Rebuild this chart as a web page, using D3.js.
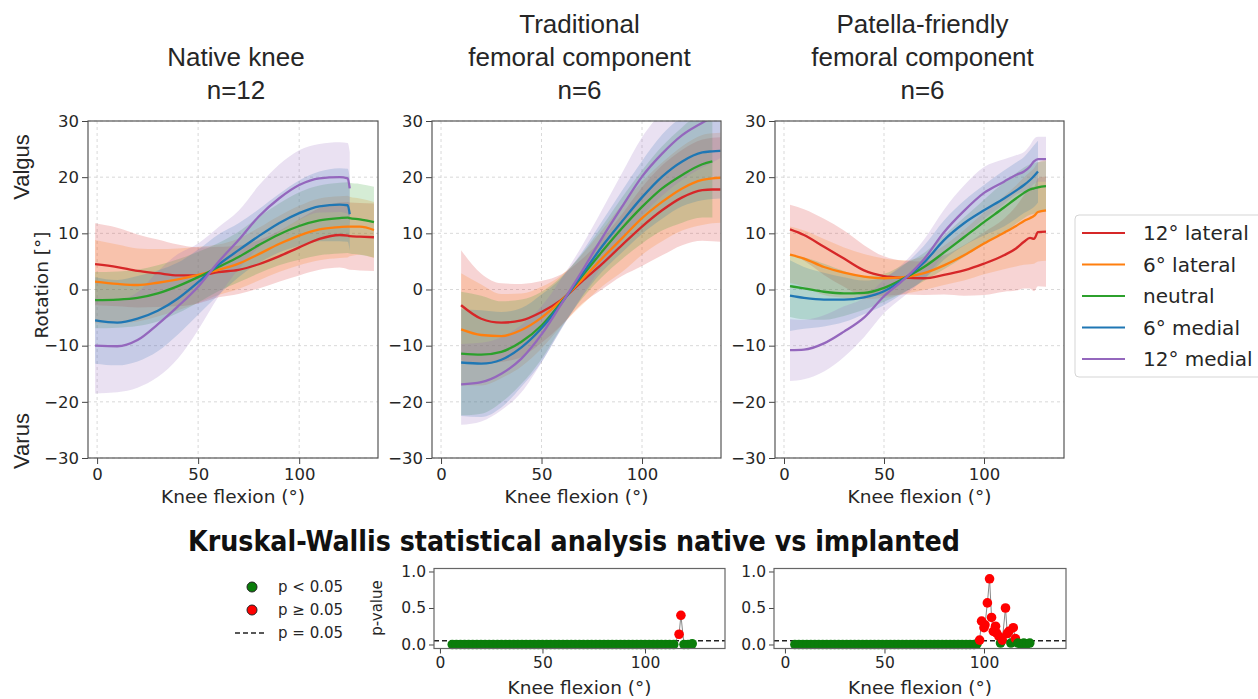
<!DOCTYPE html>
<html>
<head>
<meta charset="utf-8">
<script src="https://d3js.org/d3.v7.min.js"></script>
<style>
  body { margin: 0; background: #fff; }
  svg text { font-family: "DejaVu Sans", sans-serif; fill: #262626; }
  .title { font-family: "Liberation Sans", Arial, sans-serif; font-size: 26px; }
  .side { font-family: "Liberation Sans", Arial, sans-serif; font-size: 22px; }
  .small { font-size: 15px; }
  .axlabel { font-size: 18.5px; }
</style>
</head>
<body>
<svg id="chart" width="1258" height="699"></svg>
<script>
// ---- data ----
const seriesNames = ["12° lateral", "6° lateral", "neutral", "6° medial", "12° medial"];
const seriesColors = ["#d62728", "#ff7f0e", "#2ca02c", "#1f77b4", "#9467bd"];
const rotationTicks = [-30, -20, -10, 0, 10, 20, 30];
const flexionTicks = [0, 50, 100];
const pTicks = [0, 0.5, 1];

// Native knee, n=12
const nativeFlex = [-1, 10, 20, 30, 40, 50, 60, 70, 80, 90, 100, 110, 120, 124, 125, 130, 137];
const nativeLat12 = [4.5, 4.0, 3.3, 2.9, 2.5, 2.5, 3.1, 3.5, 4.5, 5.9, 7.5, 9.0, 9.7, 9.6, 9.5, 9.4, 9.3];
const nativeLat12Sd = [7.3, 7, 6.5, 6, 5.5, 5, 4.5, 4.3, 4.3, 4.5, 5, 5.5, 5.8, 6, 6, 6, 6];
const nativeLat6 = [1.4, 1.0, 0.8, 1.2, 1.8, 2.6, 3.5, 4.6, 6.3, 8.1, 9.6, 10.7, 11.1, 11.2, 11.2, 11.2, 10.6];
const nativeLat6Sd = [7.4, 7, 6.5, 6, 5.5, 5, 4.5, 4.5, 4.7, 5, 5.3, 5.5, 5.5, 5.5, 5.3, 5, 5];
const nativeNeutral = [-1.9, -1.8, -1.5, -0.7, 0.6, 2.2, 4.0, 5.8, 7.9, 9.8, 11.3, 12.3, 12.7, 12.8, 12.7, 12.5, 12];
const nativeNeutralSd = [5, 5, 5, 5, 4.8, 4.5, 4.3, 4.5, 5, 5.5, 6, 6.2, 6.3, 6.3, 6.3, 6.3, 6.3];
const nativeMed6 = [-5.5, -5.9, -5.2, -3.8, -1.6, 1.3, 4.4, 7.0, 9.5, 11.8, 13.6, 14.8, 15.1, 15, 13.4, null, null];
const nativeMed6Sd = [7.7, 7.6, 7.6, 7.2, 6.4, 5.8, 5.4, 4.8, 4.8, 5.2, 5.8, 6.2, 6.5, 6.5, 6.5, null, null];
const nativeMed12 = [-10, -10.1, -9.0, -6.2, -3.0, 0.5, 4.9, 8.8, 13, 16.2, 18.6, 19.8, 20, 19.8, 18, null, null];
const nativeMed12Sd = [8.5, 8.2, 8.5, 9.4, 9.3, 7.7, 6.2, 5.2, 5.5, 6, 6.2, 6.1, 6.2, 6.3, 6.5, null, null];

// Traditional femoral component, n=6
const tradFlex = [10, 20, 30, 40, 50, 60, 70, 80, 90, 100, 110, 120, 130, 135, 139];
const tradLat12 = [-2.8, -5.2, -5.9, -5.5, -4.0, -1.8, 1.4, 4.5, 7.9, 11.2, 14.1, 16.4, 17.7, 17.8, 17.8];
const tradLat12Sd = [9.8, 8, 7, 6.5, 5.5, 4.5, 4, 4.5, 5.5, 7, 8, 8.5, 9, 9.2, 9.3];
const tradLat6 = [-7.1, -8.1, -8.3, -7.2, -5, -1.9, 1.7, 5.5, 9.1, 12.7, 15.6, 18, 19.5, 19.8, 19.9];
const tradLat6Sd = [10, 9, 7.5, 6.5, 5.5, 4.5, 4.5, 5, 6, 6.5, 7, 7.5, 8, 8, 8];
const tradNeutral = [-11.4, -11.6, -11.1, -9.3, -6.4, -2.2, 2.3, 6.7, 10.9, 14.7, 18, 20.4, 22.3, 22.8, null];
const tradNeutralSd = [11, 10.5, 9, 7.5, 6, 4.5, 4, 4.5, 5.5, 6.5, 7.5, 8.5, 9.5, 10, null];
const tradMed6 = [-13, -13.2, -12.5, -10.3, -6.9, -2.4, 2.6, 7.6, 12.1, 16.4, 20.1, 22.8, 24.4, 24.6, 24.7];
const tradMed6Sd = [9.5, 9.5, 8.5, 7, 6, 4.5, 4, 4.5, 5.5, 6.5, 7.5, 8, 8.5, 8.5, 8.5];
const tradMed12 = [-16.9, -16.5, -15, -12.3, -8, -2.5, 3.2, 9.1, 14.7, 20.1, 24.2, 27.5, 29.7, 30.6, 31.4];
const tradMed12Sd = [7.2, 7, 6.5, 6, 5, 4.5, 4.5, 5, 6, 7, 7.5, 8, 8, 8, 8];

// Patella-friendly femoral component, n=6
const patFlex = [3, 10, 20, 30, 40, 50, 60, 70, 80, 90, 100, 110, 116, 120, 123, 125, 127, 131];
const patLat12 = [10.7, 9.7, 7.6, 5.5, 3.4, 2.4, 2.1, 2.0, 2.6, 3.4, 4.6, 6.1, 7.3, 8.5, 9.2, 9.0, 10.2, 10.3];
const patLat12Sd = [4.4, 4.6, 5, 5, 4.5, 3.5, 3, 3, 3.5, 4.5, 5.6, 6.5, 7.5, 8.3, 9, 9.3, 9.6, 9.8];
const patLat6 = [6.2, 5.5, 4.0, 3.0, 2.3, 2.0, 2.2, 2.9, 4.3, 6.1, 8.2, 10.1, 11.3, 12.2, 12.7, 13.1, 13.8, 14.1];
const patLat6Sd = [5, 5, 5, 4.5, 4, 3.5, 3, 3, 3.5, 4.5, 5.5, 6.5, 7.2, 7.8, 8.2, 8.5, 8.8, 9];
const patNeutral = [0.6, 0.2, -0.4, -0.7, -0.6, 0.3, 2.0, 4.0, 6.6, 9.3, 12, 14.6, 16.2, 17.2, 17.8, 18.0, 18.2, 18.4];
const patNeutralSd = [5.5, 5.5, 5, 4, 3, 2.5, 2.5, 2.5, 3, 3.5, 4, 4.5, 4.5, 4.5, 4.5, 4.5, 4.5, 4.5];
const patMed6 = [-1.1, -1.5, -1.8, -1.8, -1.4, -0.3, 1.9, 4.8, 8.8, 11.8, 14.1, 16.2, 17.6, 18.6, 19.5, 20.2, 21.0, null];
const patMed6Sd = [6.3, 5.5, 4.8, 4, 3, 2.5, 2.5, 3, 3.5, 4, 4.5, 5, 5, 5, 5.3, 5.5, 5.5, null];
const patMed12 = [-10.8, -10.7, -9.6, -7.5, -5.0, -1.2, 1.8, 5.4, 10.2, 14.0, 17.2, 19.2, 20.4, 21.0, 21.9, 22.8, 23.2, 23.2];
const patMed12Sd = [5.5, 5.3, 5, 4.5, 3.5, 3, 3, 3.5, 4, 4.5, 4.6, 4, 3.5, 3.5, 3.8, 4, 4, 4];

// Kruskal-Wallis p-values, native vs traditional
const kwTradFlex = [6, 8, 10, 12, 14, 16, 18, 20, 22, 24, 26, 28, 30, 32, 34, 36, 38, 40, 42, 44, 46, 48, 50,
  52, 54, 56, 58, 60, 62, 64, 66, 68, 70, 72, 74, 76, 78, 80, 82, 84, 86, 88, 90, 92, 94, 96, 98, 100,
  102, 104, 106, 108, 110, 112, 114, 116.6, 117.5, 119, 121, 123];
const kwTradP = [0, 0, 0, 0, 0, 0, 0, 0, 0, 0, 0, 0, 0, 0, 0, 0, 0, 0, 0, 0, 0, 0, 0,
  0, 0, 0, 0, 0, 0, 0, 0, 0, 0, 0, 0, 0, 0, 0, 0, 0, 0, 0, 0, 0, 0, 0, 0, 0,
  0, 0, 0, 0, 0, 0, 0, 0.14, 0.40, 0, 0, 0.01];

// Kruskal-Wallis p-values, native vs patella-friendly
const kwPatFlex = [5, 7, 9, 11, 13, 15, 17, 19, 21, 23, 25, 27, 29, 31, 33, 35, 37, 39, 41, 43, 45, 47, 49,
  51, 53, 55, 57, 59, 61, 63, 65, 67, 69, 71, 73, 75, 77, 79, 81, 83, 85, 87, 89, 91, 93, 95, 96.5,
  97.8, 98.8, 100, 100.5, 101.7, 102.8, 103.8, 104.7, 105.8, 106.3, 107.5, 108.3, 109.2, 110.8,
  111.7, 112.5, 113.5, 114.7, 115.8, 117, 118.5, 120, 121.5, 123];
const kwPatP = [0, 0, 0, 0, 0, 0, 0, 0, 0, 0, 0, 0, 0, 0, 0, 0, 0, 0, 0, 0, 0, 0, 0,
  0, 0, 0, 0, 0, 0, 0, 0, 0, 0, 0, 0, 0, 0, 0, 0, 0, 0, 0, 0, 0, 0, 0, 0.01,
  0.06, 0.32, 0.23, 0.27, 0.57, 0.90, 0.37, 0.18, 0.25, 0.16, 0.11, 0.02, 0.06, 0.50,
  0.15, 0.18, 0.02, 0.23, 0.08, 0.02, 0.01, 0.02, 0.01, 0.02];
const pThreshold = 0.05;

// ---- layout ----
const svg = d3.select("#chart");
const plotTop = 121, plotBottom = 458;

const panels = [
  { title: ["Native knee", "n=12"], flex: nativeFlex, left: 88, right: 378, xMin: -4.5, xMax: 139,
    means: [nativeLat12, nativeLat6, nativeNeutral, nativeMed6, nativeMed12],
    sds: [nativeLat12Sd, nativeLat6Sd, nativeNeutralSd, nativeMed6Sd, nativeMed12Sd] },
  { title: ["Traditional", "femoral component", "n=6"], flex: tradFlex, left: 432, right: 721, xMin: -4.5, xMax: 139.3,
    means: [tradLat12, tradLat6, tradNeutral, tradMed6, tradMed12],
    sds: [tradLat12Sd, tradLat6Sd, tradNeutralSd, tradMed6Sd, tradMed12Sd] },
  { title: ["Patella-friendly", "femoral component", "n=6"], flex: patFlex, left: 775, right: 1064, xMin: -4.5, xMax: 140,
    means: [patLat12, patLat6, patNeutral, patMed6, patMed12],
    sds: [patLat12Sd, patLat6Sd, patNeutralSd, patMed6Sd, patMed12Sd] }
];

const y = d3.scaleLinear().domain([-30, 30]).range([plotBottom, plotTop]);

panels.forEach((p, pi) => {
  const x = d3.scaleLinear().domain([p.xMin, p.xMax]).range([p.left, p.right]);
  const cx = (p.left + p.right) / 2;

  // titles (last line at y=99)
  const lines = p.title;
  lines.forEach((t, i) => {
    svg.append("text").attr("class", "title")
      .attr("x", cx + 3).attr("y", 99 - (lines.length - 1 - i) * 33)
      .attr("text-anchor", "middle").text(t);
  });

  const clipId = "clip" + pi;
  svg.append("clipPath").attr("id", clipId).append("rect")
    .attr("x", p.left).attr("y", plotTop).attr("width", p.right - p.left).attr("height", plotBottom - plotTop);

  // grid
  const grid = svg.append("g");
  grid.selectAll(".gx").data(flexionTicks).join("line").attr("class", "gx")
    .attr("x1", d => x(d)).attr("x2", d => x(d)).attr("y1", plotTop).attr("y2", plotBottom)
    .attr("stroke", "#cfcfcf").attr("stroke-width", 0.8).attr("stroke-dasharray", "3,3");
  grid.selectAll(".gy").data(rotationTicks).join("line").attr("class", "gy")
    .attr("x1", p.left).attr("x2", p.right).attr("y1", d => y(d)).attr("y2", d => y(d))
    .attr("stroke", "#cfcfcf").attr("stroke-width", 0.8).attr("stroke-dasharray", "3,3");

  const plot = svg.append("g").attr("clip-path", `url(#${clipId})`);
  const rows = p.means.map((m, si) => p.flex.map((f, k) => ({ f: f, m: m[k], s: p.sds[si][k] })));

  const area = d3.area().defined(d => d.m !== null)
    .x(d => x(d.f)).y0(d => y(d.m - d.s)).y1(d => y(d.m + d.s))
    .curve(d3.curveMonotoneX);
  const line = d3.line().defined(d => d.m !== null)
    .x(d => x(d.f)).y(d => y(d.m)).curve(d3.curveMonotoneX);

  rows.forEach((r, si) => {
    plot.append("path").datum(r).attr("d", area)
      .attr("fill", seriesColors[si]).attr("fill-opacity", 0.2);
  });
  rows.forEach((r, si) => {
    plot.append("path").datum(r).attr("d", line)
      .attr("fill", "none").attr("stroke", seriesColors[si]).attr("stroke-width", 2.3);
  });

  // axes
  const xAxis = svg.append("g").attr("transform", `translate(0,${plotBottom})`)
    .call(d3.axisBottom(x).tickValues(flexionTicks).tickSize(6).tickPadding(4));
  const yAxis = svg.append("g").attr("transform", `translate(${p.left},0)`)
    .call(d3.axisLeft(y).tickValues(rotationTicks).tickSize(6).tickPadding(3)
      .tickFormat(d => d < 0 ? "\u2212" + Math.abs(d) : d));
  [xAxis, yAxis].forEach(a => {
    a.select(".domain").remove();
    a.selectAll("line").attr("stroke", "#444");
    a.selectAll("text").attr("fill", "#262626")
      .style("font-family", "DejaVu Sans").style("font-size", "16.5px");
  });
  svg.append("rect").attr("x", p.left).attr("y", plotTop)
    .attr("width", p.right - p.left).attr("height", plotBottom - plotTop)
    .attr("fill", "none").attr("stroke", "#555").attr("stroke-width", 1.2);

  svg.append("text").attr("class", "axlabel").attr("x", cx).attr("y", 503)
    .attr("text-anchor", "middle").text("Knee flexion (°)");
});

// y labels of first panel
svg.append("text").attr("class", "axlabel")
  .attr("transform", "translate(48,285) rotate(-90)").attr("text-anchor", "middle").text("Rotation [°]");
svg.append("text").attr("class", "side")
  .attr("transform", "translate(29,167) rotate(-90)").attr("text-anchor", "middle").text("Valgus");
svg.append("text").attr("class", "side")
  .attr("transform", "translate(29,441) rotate(-90)").attr("text-anchor", "middle").text("Varus");

// legend
const lg = svg.append("g");
lg.append("rect").attr("x", 1075).attr("y", 215).attr("width", 200).attr("height", 162)
  .attr("rx", 4).attr("fill", "#fff").attr("stroke", "#d5d5d5");
seriesNames.forEach((n, i) => {
  const ly = 233 + i * 31.5;
  lg.append("line").attr("x1", 1082).attr("x2", 1125).attr("y1", ly).attr("y2", ly)
    .attr("stroke", seriesColors[i]).attr("stroke-width", 2);
  lg.append("text").attr("x", 1143).attr("y", ly + 7).style("font-size", "20px").text(n);
});

// ---- Kruskal-Wallis section ----
svg.append("text").attr("x", 574).attr("y", 551).attr("text-anchor", "middle")
  .attr("textLength", 772).attr("lengthAdjust", "spacingAndGlyphs")
  .style("font-family", "'Liberation Sans Narrow', 'DejaVu Sans Condensed', 'Liberation Sans', sans-serif")
  .style("font-weight", "bold").style("font-size", "29px").style("fill", "#111")
  .text("Kruskal-Wallis statistical analysis native vs implanted");

const kwTop = 568.5, kwBottom = 648.5;
const yp = d3.scaleLinear().domain([-0.055, 1.041]).range([kwBottom, kwTop]);
const kwPanels = [
  { flex: kwTradFlex, p: kwTradP, left: 434, right: 725, xMin: -2.9, xMax: 139 },
  { flex: kwPatFlex, p: kwPatP, left: 774, right: 1066, xMin: -5.5, xMax: 141.2 }
];

kwPanels.forEach((k) => {
  const x = d3.scaleLinear().domain([k.xMin, k.xMax]).range([k.left, k.right]);
  const pts = k.flex.map((f, i) => ({ f: f, p: k.p[i] }));
  const g = svg.append("g");

  g.append("line").attr("x1", k.left).attr("x2", k.right)
    .attr("y1", yp(pThreshold)).attr("y2", yp(pThreshold))
    .attr("stroke", "#222").attr("stroke-width", 1.5).attr("stroke-dasharray", "5,3");

  g.append("path").datum(pts)
    .attr("d", d3.line().x(d => x(d.f)).y(d => yp(d.p)))
    .attr("fill", "none").attr("stroke", "#888").attr("stroke-width", 1);

  g.selectAll("circle").data(pts).join("circle")
    .attr("cx", d => x(d.f)).attr("cy", d => yp(d.p)).attr("r", 4.8)
    .attr("fill", d => d.p < pThreshold ? "#0a7d0a" : "#ff0000");

  const xAxis = svg.append("g").attr("transform", `translate(0,${kwBottom})`)
    .call(d3.axisBottom(x).tickValues(flexionTicks).tickSize(5).tickPadding(3));
  const yAxis = svg.append("g").attr("transform", `translate(${k.left},0)`)
    .call(d3.axisLeft(yp).tickValues(pTicks).tickSize(5).tickPadding(3).tickFormat(d3.format(".1f")));
  [xAxis, yAxis].forEach(a => {
    a.select(".domain").remove();
    a.selectAll("line").attr("stroke", "#444");
    a.selectAll("text").attr("fill", "#262626")
      .style("font-family", "DejaVu Sans").style("font-size", "15.5px");
  });
  svg.append("rect").attr("x", k.left).attr("y", kwTop)
    .attr("width", k.right - k.left).attr("height", kwBottom - kwTop)
    .attr("fill", "none").attr("stroke", "#666").attr("stroke-width", 1.2);

  svg.append("text").attr("class", "axlabel").attr("x", (k.left + k.right) / 2).attr("y", 694)
    .attr("text-anchor", "middle").text("Knee flexion (°)");
});

svg.append("text").attr("class", "small")
  .attr("transform", "translate(382,608) rotate(-90)").attr("text-anchor", "middle").text("p-value");

// p-value legend
const pl = svg.append("g");
pl.append("circle").attr("cx", 252).attr("cy", 587).attr("r", 5)
  .attr("fill", "#0a7d0a").attr("stroke", "#222").attr("stroke-width", 1);
pl.append("circle").attr("cx", 252).attr("cy", 610).attr("r", 5)
  .attr("fill", "#ff0000").attr("stroke", "#222").attr("stroke-width", 1);
pl.append("line").attr("x1", 235).attr("x2", 266).attr("y1", 633).attr("y2", 633)
  .attr("stroke", "#222").attr("stroke-width", 1.5).attr("stroke-dasharray", "5,3");
["p < 0.05", "p \u2265 0.05", "p = 0.05"].forEach((t, i) => {
  pl.append("text").attr("class", "small").attr("x", 278).attr("y", 592 + i * 23).text(t);
});
</script>
</body>
</html>
